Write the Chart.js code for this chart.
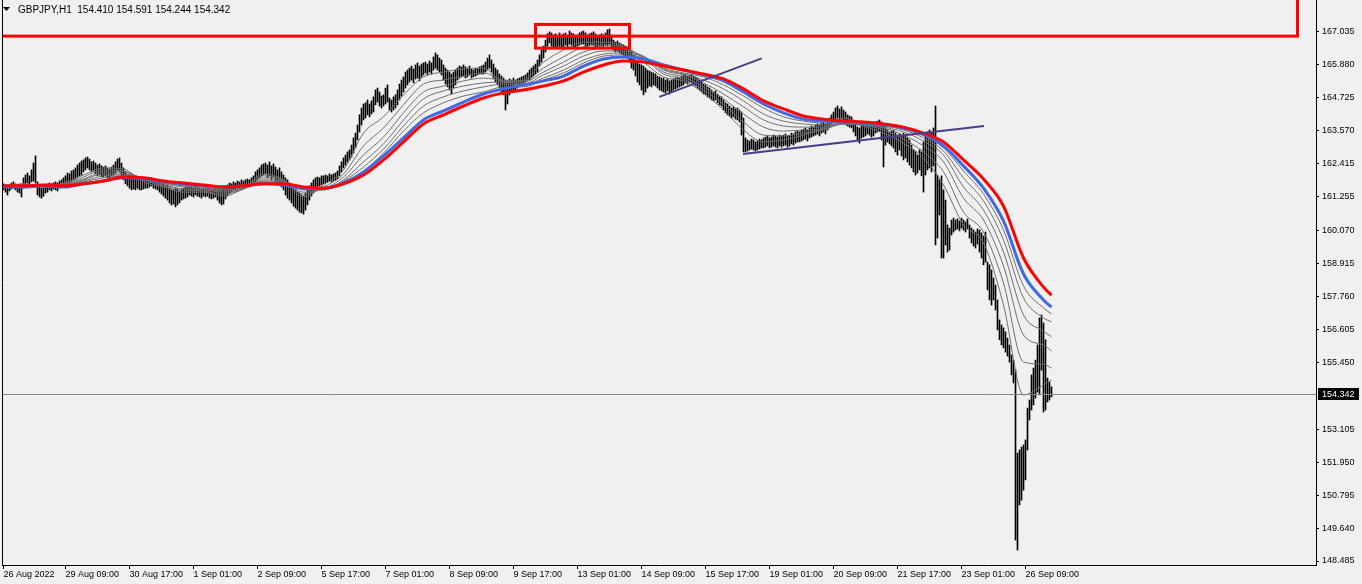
<!DOCTYPE html>
<html>
<head>
<meta charset="utf-8">
<title>GBPJPY H1</title>
<script src="https://cdn.jsdelivr.net/npm/chart.js@4.4.1/dist/chart.umd.min.js"></script>
<style>
html, body { margin: 0; padding: 0; background: #f0f0f0; }
canvas { display: block; }
</style>
</head>
<body>
<canvas id="chart" width="1362" height="584"></canvas>
<script>
const symbolTitle = 'GBPJPY,H1  154.410 154.591 154.244 154.342';
const lastPrice = 154.342;

// hourly bars, one value per bar (bar 0 = 26 Aug 2022 02:00)
const barHigh = [
  161.71,161.67,161.64,161.67,161.74,161.78,161.71,161.64,161.67,161.64,
  161.92,162.02,162.09,161.99,162.20,162.44,162.69,161.78,161.64,161.56,
  161.64,161.67,161.71,161.74,161.71,161.74,161.78,161.74,161.81,161.85,
  161.92,161.99,162.09,162.06,162.16,162.20,162.27,162.37,162.44,162.51,
  162.55,162.62,162.65,162.58,162.48,162.51,162.44,162.37,162.41,162.34,
  162.30,162.34,162.27,162.23,162.30,162.37,162.48,162.58,162.62,162.44,
  162.27,162.13,162.02,162.06,161.95,161.92,161.88,161.92,161.88,161.85,
  161.88,161.92,161.85,161.88,161.92,161.88,161.85,161.81,161.78,161.74,
  161.71,161.64,161.67,161.56,161.53,161.50,161.56,161.53,161.46,161.50,
  161.56,161.60,161.64,161.67,161.60,161.56,161.64,161.60,161.56,161.53,
  161.56,161.53,161.60,161.56,161.50,161.53,161.56,161.60,161.53,161.50,
  161.56,161.64,161.67,161.74,161.71,161.78,161.74,161.81,161.78,161.85,
  161.81,161.85,161.88,161.85,161.92,161.99,162.13,162.20,162.27,162.37,
  162.41,162.44,162.37,162.48,162.34,162.41,162.30,162.20,162.27,162.13,
  162.02,161.92,161.85,161.74,161.64,161.56,161.50,161.42,161.39,161.32,
  161.28,161.39,161.50,161.64,161.74,161.85,161.92,161.95,161.92,161.99,
  161.99,162.02,161.99,162.06,162.02,162.06,162.09,162.16,162.34,162.48,
  162.62,162.72,162.83,162.90,163.07,163.32,163.49,163.77,164.13,164.37,
  164.51,164.55,164.65,164.51,164.62,164.76,165.00,165.07,164.93,164.79,
  164.83,165.07,165.18,164.72,164.65,164.76,164.83,165.00,165.21,165.35,
  165.46,165.63,165.70,165.77,165.84,165.74,165.88,165.95,165.84,165.91,
  165.95,165.98,165.91,166.02,165.95,166.16,166.30,166.23,166.12,166.05,
  165.88,165.77,165.70,165.63,165.56,165.63,165.70,165.77,165.84,165.81,
  165.88,165.81,165.77,165.84,165.74,165.70,165.77,165.74,165.81,165.84,
  165.88,165.98,166.12,166.23,166.05,165.91,165.77,165.70,165.56,165.49,
  165.42,165.35,165.28,165.39,165.35,165.42,165.35,165.39,165.42,165.46,
  165.49,165.53,165.60,165.70,165.77,165.84,165.91,166.05,166.23,166.40,
  166.54,166.75,166.97,167.04,167.00,166.93,166.97,166.89,167.00,166.93,
  166.97,167.00,166.93,167.07,167.00,166.97,166.89,166.93,167.00,167.04,
  167.07,167.00,166.93,166.97,167.00,167.04,166.97,166.89,166.93,166.97,
  166.93,167.00,167.11,167.14,166.93,166.75,166.68,166.72,166.65,166.61,
  166.58,166.54,166.51,166.47,166.40,166.23,166.05,165.98,165.91,165.88,
  165.84,165.77,165.70,165.67,165.63,165.60,165.56,165.49,165.46,165.42,
  165.42,165.35,165.39,165.32,165.35,165.39,165.42,165.46,165.42,165.49,
  165.53,165.56,165.49,165.53,165.56,165.49,165.46,165.42,165.35,165.28,
  165.21,165.18,165.11,165.07,165.00,164.93,164.97,164.86,164.79,164.76,
  164.65,164.55,164.51,164.44,164.37,164.41,164.34,164.37,164.30,164.23,
  164.02,163.32,163.25,163.21,163.28,163.25,163.18,163.21,163.28,163.25,
  163.32,163.35,163.39,163.32,163.35,163.42,163.39,163.35,163.42,163.39,
  163.42,163.46,163.39,163.42,163.49,163.46,163.53,163.56,163.53,163.60,
  163.63,163.67,163.60,163.67,163.74,163.70,163.77,163.81,163.77,163.84,
  163.88,163.81,163.91,164.02,164.13,164.23,164.37,164.44,164.34,164.41,
  164.30,164.23,164.13,164.09,164.06,163.95,163.81,163.70,163.67,163.74,
  163.77,163.81,163.88,163.84,163.77,163.81,163.88,163.91,163.95,163.88,
  163.81,163.67,163.60,163.53,163.56,163.60,163.49,163.42,163.46,163.39,
  163.49,163.42,163.32,163.25,163.07,162.90,162.83,162.72,162.90,162.83,
  163.18,163.42,163.53,163.60,163.49,163.67,164.44,162.02,161.85,161.99,
  161.50,161.14,160.27,160.16,160.44,160.51,160.44,160.48,160.41,160.51,
  160.44,160.37,160.48,160.27,160.16,160.09,160.02,160.13,160.09,159.99,
  159.88,160.02,158.97,158.87,158.69,158.41,158.16,157.64,156.94,156.76,
  156.66,156.52,156.30,156.06,155.71,155.53,155.18,152.27,152.38,152.48,
  152.55,152.73,153.85,154.13,155.01,155.25,155.53,156.06,157.01,157.11,
  156.83,156.24,154.90,154.76,154.59
];
const barLow = [
  161.50,161.42,161.32,161.46,161.53,161.56,161.50,161.42,161.39,161.25,
  161.56,161.67,161.74,161.64,161.78,161.81,161.74,161.32,161.25,161.21,
  161.28,161.39,161.42,161.50,161.46,161.53,161.50,161.46,161.56,161.60,
  161.60,161.64,161.71,161.74,161.78,161.85,161.88,161.95,161.99,162.02,
  162.13,162.20,162.27,162.20,162.13,162.16,162.06,161.99,162.02,161.95,
  161.95,161.99,161.92,161.88,161.99,162.02,162.09,162.20,162.13,161.99,
  161.85,161.71,161.64,161.56,161.50,161.53,161.50,161.56,161.50,161.50,
  161.53,161.56,161.56,161.60,161.64,161.56,161.53,161.50,161.42,161.35,
  161.28,161.21,161.14,161.04,160.97,161.00,160.90,160.97,161.04,161.14,
  161.18,161.21,161.25,161.32,161.28,161.25,161.32,161.28,161.25,161.21,
  161.28,161.25,161.28,161.21,161.18,161.21,161.25,161.14,161.04,160.97,
  161.00,161.18,161.28,161.39,161.42,161.50,161.46,161.53,161.56,161.60,
  161.56,161.60,161.64,161.60,161.67,161.71,161.78,161.85,161.92,161.99,
  162.02,162.06,161.92,161.99,161.85,161.95,161.78,161.67,161.71,161.60,
  161.50,161.32,161.21,161.14,161.04,160.93,160.86,160.79,160.72,160.69,
  160.65,160.79,160.97,161.14,161.28,161.39,161.50,161.56,161.64,161.67,
  161.71,161.74,161.78,161.81,161.78,161.81,161.85,161.88,161.99,162.13,
  162.27,162.37,162.48,162.55,162.65,162.79,162.97,163.25,163.53,163.77,
  163.95,164.02,164.13,164.06,164.16,164.23,164.48,164.58,164.44,164.37,
  164.44,164.51,164.58,164.30,164.23,164.30,164.37,164.48,164.65,164.79,
  164.93,165.07,165.18,165.28,165.35,165.25,165.39,165.42,165.32,165.46,
  165.53,165.60,165.53,165.63,165.56,165.70,165.77,165.70,165.63,165.53,
  165.35,165.21,165.11,165.00,164.86,165.07,165.18,165.35,165.42,165.46,
  165.49,165.42,165.46,165.53,165.42,165.46,165.49,165.53,165.56,165.56,
  165.56,165.63,165.70,165.77,165.63,165.42,165.28,165.18,165.07,164.93,
  164.83,164.30,164.51,164.83,164.93,165.00,164.97,165.07,165.14,165.21,
  165.25,165.28,165.35,165.35,165.42,165.49,165.56,165.63,165.84,165.98,
  166.12,166.33,166.54,166.65,166.54,166.51,166.47,166.51,166.54,166.47,
  166.51,166.58,166.47,166.61,166.58,166.51,166.47,166.54,166.58,166.61,
  166.61,166.54,166.51,166.58,166.61,166.58,166.51,166.47,166.54,166.54,
  166.51,166.58,166.54,166.61,166.47,166.40,166.33,166.37,166.30,166.26,
  166.23,166.16,166.12,165.98,165.77,165.70,165.49,165.28,165.18,165.00,
  164.83,164.93,165.07,165.14,165.11,165.18,165.14,165.07,165.00,164.97,
  164.93,164.90,164.97,164.86,164.93,165.00,165.04,165.07,165.11,165.14,
  165.18,165.25,165.21,165.28,165.25,165.18,165.14,165.07,165.00,164.93,
  164.86,164.83,164.76,164.72,164.65,164.62,164.65,164.55,164.48,164.44,
  164.30,164.20,164.13,164.09,164.02,164.06,163.98,163.95,163.88,163.42,
  162.83,162.83,162.86,162.90,162.93,162.90,162.86,162.90,162.93,162.97,
  162.97,163.00,163.04,162.97,163.00,163.04,163.00,162.97,163.04,163.00,
  163.04,163.07,163.00,163.04,163.11,163.07,163.14,163.18,163.18,163.21,
  163.25,163.28,163.21,163.32,163.35,163.39,163.42,163.46,163.39,163.49,
  163.53,163.46,163.60,163.67,163.77,163.88,163.95,164.02,163.95,163.98,
  163.91,163.81,163.74,163.70,163.67,163.53,163.39,163.25,163.14,163.32,
  163.35,163.39,163.46,163.42,163.35,163.39,163.49,163.53,163.56,163.25,
  162.30,163.07,163.18,163.11,163.04,162.97,162.83,162.72,162.90,162.69,
  162.55,162.62,162.48,162.37,162.27,162.13,162.02,162.09,162.20,161.99,
  161.42,162.02,162.20,162.27,162.13,162.34,159.57,159.81,160.62,159.11,
  159.11,159.57,159.32,159.39,159.92,160.02,160.09,160.13,160.06,160.16,
  160.09,160.02,160.13,159.81,159.64,159.53,159.46,159.60,159.32,159.11,
  158.87,158.97,157.99,157.64,157.46,157.64,157.29,156.59,156.24,156.06,
  155.96,155.81,155.67,155.46,155.01,154.73,149.22,148.87,150.45,150.62,
  150.97,151.33,152.38,153.43,153.78,153.96,154.20,154.41,154.31,155.18,
  153.71,153.78,154.06,154.13,154.24
];

// moving averages, read every 10 bars
const maBar = [0,10,20,30,40,50,60,70,80,90,100,110,120,130,140,150,160,170,180,190,
  200,210,220,230,240,250,260,270,280,290,300,310,320,330,340,350,360,370,380,390,
  400,410,420,430,440,450,460,470,480,490,500,510,520,524];
const maRed = [161.64,161.64,161.67,161.64,161.71,161.81,161.95,161.92,161.81,161.74,
  161.67,161.60,161.64,161.71,161.71,161.60,161.56,161.71,162.02,162.55,
  163.18,163.81,164.13,164.44,164.72,164.90,165.00,165.14,165.32,165.63,
  165.88,166.02,165.98,165.84,165.70,165.56,165.39,165.04,164.62,164.34,
  164.09,163.98,163.91,163.88,163.81,163.70,163.49,163.18,162.55,161.88,
  160.93,159.11,158.09,157.81];
const maBlue = [161.60,161.60,161.64,161.60,161.71,161.81,161.92,161.88,161.78,161.71,
  161.64,161.60,161.64,161.71,161.67,161.56,161.56,161.74,162.13,162.69,
  163.32,163.95,164.27,164.58,164.86,165.04,165.18,165.32,165.49,165.84,
  166.09,166.16,166.09,165.88,165.70,165.53,165.32,164.93,164.51,164.20,
  163.98,163.91,163.88,163.84,163.77,163.67,163.46,163.04,162.34,161.56,
  160.41,158.55,157.64,157.39];
const maGrey1 = [161.56,161.71,161.60,161.74,162.02,162.27,162.23,161.78,161.60,161.42,
  161.42,161.28,161.56,162.06,161.85,161.25,161.67,162.20,163.49,164.06,
  164.83,165.46,165.63,165.74,165.77,165.28,165.35,165.98,166.40,166.68,
  166.68,166.54,165.98,165.46,165.32,164.90,164.30,163.60,163.18,163.25,
  163.42,163.67,164.02,163.74,163.49,163.14,162.62,161.67,160.27,159.64,
  157.46,154.31,154.66,154.83];
const maGrey2 = [161.60,161.71,161.60,161.71,161.95,162.20,162.16,161.85,161.64,161.50,
  161.46,161.35,161.53,161.99,161.85,161.35,161.60,162.06,163.04,163.67,
  164.48,165.21,165.35,165.49,165.60,165.35,165.32,165.77,166.16,166.51,
  166.58,166.51,166.12,165.56,165.39,165.00,164.51,163.88,163.42,163.39,
  163.49,163.60,163.88,163.77,163.60,163.28,162.83,162.13,160.72,160.02,
  158.23,155.46,155.39,155.25];
const maGrey3 = [161.60,161.67,161.64,161.71,161.88,162.13,162.13,161.88,161.67,161.53,
  161.50,161.42,161.53,161.92,161.81,161.42,161.53,161.95,162.72,163.35,
  164.20,164.93,165.14,165.32,165.42,165.32,165.28,165.63,165.98,166.33,
  166.47,166.44,166.16,165.63,165.46,165.11,164.69,164.16,163.70,163.56,
  163.60,163.63,163.81,163.77,163.67,163.42,163.04,162.48,161.21,160.44,
  158.83,156.41,156.06,155.85];
const maGrey4 = [161.64,161.67,161.64,161.67,161.85,162.06,162.06,161.92,161.71,161.60,
  161.53,161.46,161.53,161.85,161.81,161.50,161.50,161.85,162.48,163.11,
  163.95,164.69,164.97,165.14,165.25,165.28,165.21,165.53,165.84,166.19,
  166.37,166.37,166.19,165.70,165.53,165.25,164.86,164.41,163.95,163.74,
  163.70,163.70,163.81,163.77,163.70,163.53,163.21,162.72,161.60,160.79,
  159.32,157.11,156.55,156.34];
const maGrey5 = [161.64,161.67,161.64,161.67,161.81,161.99,162.02,161.92,161.74,161.64,
  161.56,161.50,161.56,161.81,161.78,161.53,161.50,161.81,162.30,162.93,
  163.74,164.44,164.76,164.97,165.11,165.21,165.18,165.42,165.70,166.05,
  166.26,166.30,166.16,165.74,165.56,165.35,165.04,164.62,164.16,163.91,
  163.81,163.77,163.81,163.77,163.74,163.60,163.32,162.86,161.92,161.11,
  159.74,157.71,157.01,156.87];
const maGrey6 = [161.64,161.64,161.64,161.67,161.78,161.92,161.99,161.92,161.78,161.67,
  161.60,161.53,161.56,161.78,161.74,161.56,161.53,161.78,162.16,162.79,
  163.56,164.20,164.55,164.79,164.93,165.11,165.11,165.35,165.60,165.95,
  166.19,166.23,166.12,165.77,165.60,165.46,165.18,164.79,164.37,164.06,
  163.91,163.84,163.84,163.81,163.77,163.63,163.39,162.97,162.16,161.35,
  160.09,158.13,157.36,157.15];

// drawn objects, in bar index / price
const trendUpBar = [327.9, 379.1];
const trendUpPrice = [164.76, 166.11];
const trendFlatBar = [369.75, 490.25];
const trendFlatPrice = [162.76, 163.74];
const zoneBar = [-10, 647];
const zonePrice = [166.89, 169.5];
const topBoxBar = [266, 313];
const topBoxPrice = [166.47, 167.30];

const timeTickBar = [0,31,63,95,127,159,191,223,255,287,319,351,383,415,447,479,511];
const timeTickLabels = ['26 Aug 2022','29 Aug 09:00','30 Aug 17:00','1 Sep 01:00','2 Sep 09:00',
  '5 Sep 17:00','7 Sep 01:00','8 Sep 09:00','9 Sep 17:00','13 Sep 01:00','14 Sep 09:00',
  '15 Sep 17:00','19 Sep 01:00','20 Sep 09:00','21 Sep 17:00','23 Sep 01:00','26 Sep 09:00'];
const priceTicks = [167.035,165.880,164.725,163.570,162.415,161.255,160.070,158.915,157.760,
  156.605,155.450,153.105,151.950,150.795,149.640,148.485];

const FONT = '"Liberation Sans", Arial, sans-serif';
Chart.defaults.font.family = FONT;
Chart.defaults.font.size = 9;
Chart.defaults.color = '#000';

const pts = (xs, ys) => ys.map((v, k) => ({ x: xs[k], y: v }));
const maLine = (vals, color, width, order) => ({
  type: 'line', data: pts(maBar, vals), borderColor: color, borderWidth: width,
  pointRadius: 0, cubicInterpolationMode: 'monotone', order: order
});

const overlay = {
  id: 'overlay',
  afterDatasetsDraw(chart) {
    const { ctx, chartArea: a, scales: { x, y } } = chart;
    ctx.save();
    ctx.beginPath();
    ctx.rect(a.left, a.top, a.right - a.left, a.bottom - a.top);
    ctx.clip();
    // bid line
    const py = Math.round(y.getPixelForValue(lastPrice)) + 0.5;
    ctx.strokeStyle = '#778899';
    ctx.lineWidth = 1;
    ctx.beginPath();
    ctx.moveTo(a.left, py);
    ctx.lineTo(a.right, py);
    ctx.stroke();
    // rectangles
    ctx.strokeStyle = '#ff0000';
    ctx.lineWidth = 3;
    [[zoneBar, zonePrice], [topBoxBar, topBoxPrice]].forEach(([b, p]) => {
      const x0 = x.getPixelForValue(b[0]), x1 = x.getPixelForValue(b[1]);
      const y0 = y.getPixelForValue(p[1]), y1 = y.getPixelForValue(p[0]);
      ctx.strokeRect(x0, y0, x1 - x0, y1 - y0);
    });
    ctx.restore();
    // left frame
    ctx.save();
    ctx.strokeStyle = '#000';
    ctx.lineWidth = 1;
    ctx.beginPath();
    ctx.moveTo(a.left + 0.5, a.top);
    ctx.lineTo(a.left + 0.5, a.bottom);
    ctx.stroke();
    ctx.restore();
  },
  afterDraw(chart) {
    const { ctx, chartArea: a, scales: { y } } = chart;
    ctx.save();
    // price label on the axis
    const py = Math.round(y.getPixelForValue(lastPrice));
    ctx.fillStyle = '#000';
    ctx.fillRect(a.right + 2, py - 6, 41, 12);
    ctx.fillStyle = '#fff';
    ctx.font = '9px ' + FONT;
    ctx.textBaseline = 'middle';
    ctx.fillText(lastPrice.toFixed(3), a.right + 6, py + 0.5);
    // title
    ctx.fillStyle = '#000';
    ctx.beginPath();
    ctx.moveTo(3, 7);
    ctx.lineTo(10, 7);
    ctx.lineTo(6.5, 11);
    ctx.closePath();
    ctx.fill();
    ctx.font = '10px ' + FONT;
    ctx.fillText(symbolTitle, 18, 10.5);
    ctx.restore();
  }
};

new Chart(document.getElementById('chart'), {
  type: 'bar',
  data: {
    datasets: [
      {
        type: 'bar',
        data: barHigh.map((h, i) => ({ x: i, y: [barLow[i], h] })),
        backgroundColor: '#000',
        borderWidth: 0,
        barThickness: 1,
        order: 10
      },
      maLine(maGrey6, '#6e6e6e', 1, 5),
      maLine(maGrey5, '#6e6e6e', 1, 5),
      maLine(maGrey4, '#6e6e6e', 1, 5),
      maLine(maGrey3, '#6e6e6e', 1, 5),
      maLine(maGrey2, '#6e6e6e', 1, 5),
      maLine(maGrey1, '#6e6e6e', 1, 5),
      maLine(maBlue, '#4169e1', 3, 2),
      maLine(maRed, '#ff0000', 3, 1),
      {
        type: 'line', data: pts(trendUpBar, trendUpPrice), borderColor: '#483d8b',
        borderWidth: 2, pointRadius: 0, order: 0
      },
      {
        type: 'line', data: pts(trendFlatBar, trendFlatPrice), borderColor: '#483d8b',
        borderWidth: 2, pointRadius: 0, order: 0
      }
    ]
  },
  options: {
    responsive: false,
    animation: false,
    devicePixelRatio: 1,
    events: [],
    layout: { padding: { left: 2, top: 0, right: 0, bottom: 0 } },
    plugins: { legend: { display: false }, tooltip: { enabled: false } },
    scales: {
      x: {
        type: 'linear', min: -0.75, max: 656.25, offset: false, bounds: 'data',
        grid: { drawOnChartArea: false, drawTicks: true, tickLength: 4, color: '#000', offset: false },
        border: { display: true, color: '#000', width: 1 },
        ticks: {
          autoSkip: false, maxRotation: 0, minRotation: 0, align: 'start', padding: 0,
          color: '#000', font: { size: 9 },
          callback: (v, k) => timeTickLabels[k]
        },
        afterBuildTicks: s => { s.ticks = timeTickBar.map(v => ({ value: v })); },
        afterFit: s => { s.height = 19; s.paddingLeft = 0; s.paddingRight = 0; }
      },
      y: {
        type: 'linear', position: 'right', min: 148.345, max: 168.157, bounds: 'data',
        grid: { drawOnChartArea: false, drawTicks: true, tickLength: 3, color: '#000' },
        border: { display: true, color: '#000', width: 1 },
        ticks: { padding: 3, color: '#000', font: { size: 9 }, callback: v => v.toFixed(3) },
        afterBuildTicks: s => { s.ticks = priceTicks.map(v => ({ value: v })); },
        afterFit: s => { s.width = 46; s.paddingTop = 0; s.paddingBottom = 0; }
      }
    }
  },
  plugins: [overlay]
});
</script>
</body>
</html>
